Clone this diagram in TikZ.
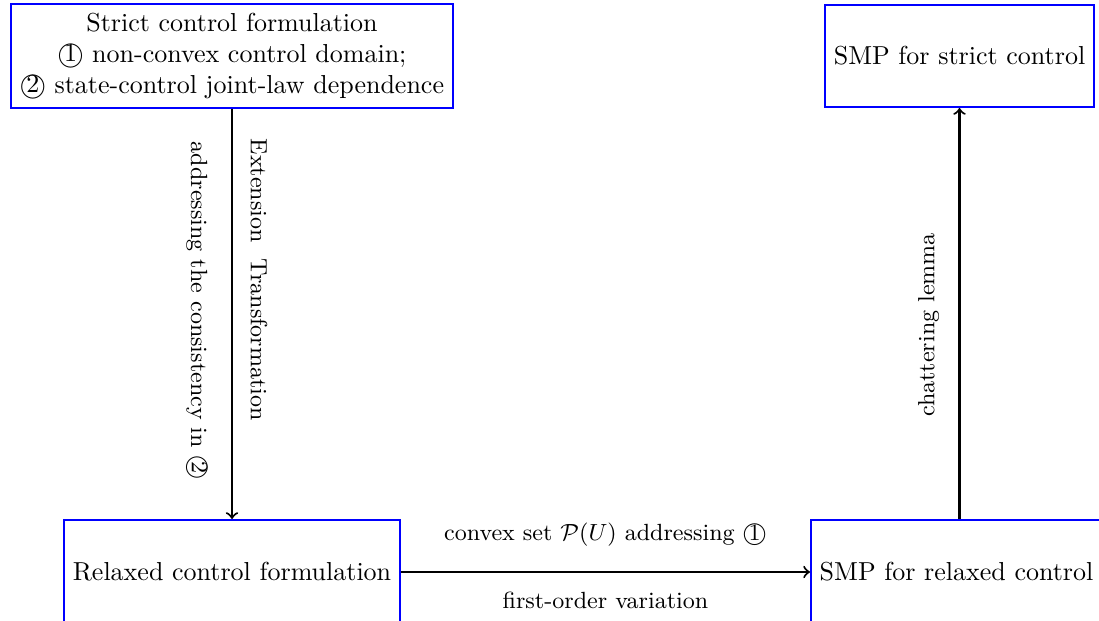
\documentclass[tikz,border=0pt]{standalone}
\begin{document}
\begin{tikzpicture}[x=0.3846pt,y=-0.3846pt,
  box/.style={draw=blue, thick, align=center, fill=white},
  arr/.style={->, thick},
  lab/.style={font=\small}]
\useasboundingbox (0,0) rectangle (1099,621);
\node[box] (A) at (232,56) {Strict control formulation\\ \textcircled{1} non-convex control domain;\\ \textcircled{2} state-control joint-law dependence};
\node[box, minimum height=39.2pt] (B) at (959.5,56) {SMP for strict control};
\node[box, minimum height=40pt] (C) at (232,572) {Relaxed control formulation};
\node[box, minimum height=40pt, anchor=west] (D) at (810,572) {SMP for relaxed control};
\draw[arr] (A.south) -- (C.north)
  node[lab, pos=0.417, xshift=10.4pt, rotate=-90] {Extension\ \ Transformation}
  node[lab, pos=0.493, xshift=-13.5pt, rotate=-90] {addressing the consistency in \textcircled{2}};
\draw[arr] (C.east) -- (D.west)
  node[lab, midway, yshift=14.2pt] {convex set $\mathcal{P}(U)$ addressing \textcircled{1}}
  node[lab, midway, yshift=-10.8pt] {first-order variation};
\coordinate (Dn) at (B.south |- D.north);
\draw[arr] (Dn) -- (B.south)
  node[lab, pos=0.472, xshift=-11.9pt, rotate=90] {chattering lemma};
\end{tikzpicture}
\end{document}
